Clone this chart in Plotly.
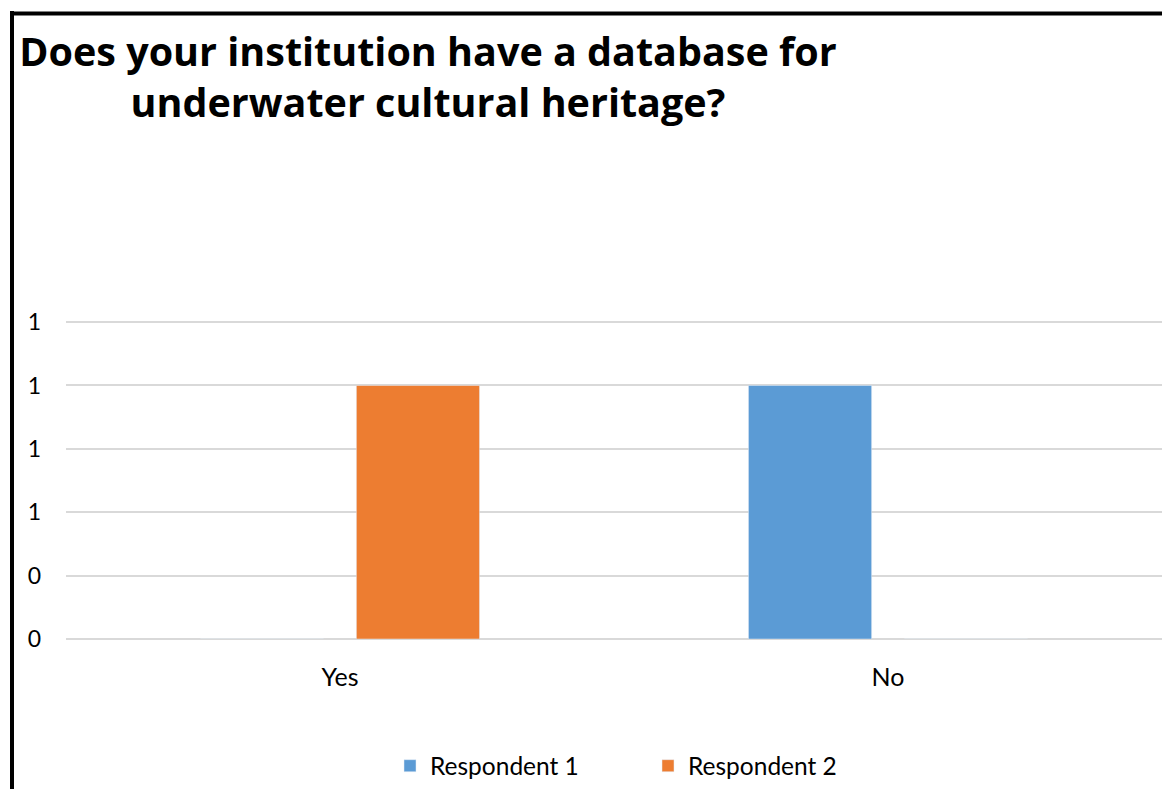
import plotly.graph_objects as go

categories = ["Yes", "No"]
respondent_1 = [0, 1]
respondent_2 = [1, 0]
tick_vals = [0, 0.25, 0.5, 0.75, 1.0, 1.25]
tick_text = ["0", "0", "1", "1", "1", "1"]

W, H = 1162, 789
Y_TOP = 1.27
ML, MR, MB = 66, 0, 147
PH = 320 * Y_TOP / 1.25
MT = H - MB - PH
PW = W - ML - MR

def px_x(x):
    return (x - ML) / PW

def px_y(y):
    return (H - MB - y) / PH

fig = go.Figure()
fig.add_trace(go.Bar(name="Respondent 1", x=categories, y=respondent_1, marker_color="#5B9BD5"))
fig.add_trace(go.Bar(name="Respondent 2", x=categories, y=respondent_2, marker_color="#ED7D31"))

font_family = "Lato, 'Open Sans', sans-serif"
title_family = "'Open Sans', sans-serif"

fig.update_layout(
    width=W, height=H,
    margin=dict(l=ML, r=MR, t=MT, b=MB),
    paper_bgcolor="white", plot_bgcolor="white",
    barmode="group", bargap=0.431, bargroupgap=0.21,
    font=dict(family=font_family, size=25, color="#000000"),
    title=dict(
        text="<b>Does your institution have a database for<br>underwater cultural heritage?</b>",
        x=px_x(428), xref="paper", xanchor="center",
        y=1 - 66 / H, yref="container", yanchor="top",
        font=dict(family=title_family, size=39.5, color="#000000"),
    ),
    legend=dict(
        orientation="h", x=px_x(390), xanchor="left", xref="paper",
        y=px_y(770), yanchor="middle", yref="paper",
        font=dict(size=24.5), entrywidth=213, entrywidthmode="pixels",
        traceorder="normal",
    ),
    showlegend=True,
)

fig.update_yaxes(
    range=[0, Y_TOP], tickvals=tick_vals, ticktext=tick_text,
    showgrid=True, gridcolor="#D9D9D9", gridwidth=2,
    zeroline=True, zerolinecolor="#D9D9D9", zerolinewidth=2,
    showline=False, ticks="", ticklabelstandoff=24,
    tickfont=dict(size=23),
)
fig.update_xaxes(
    showline=False, ticks="", ticklabelstandoff=21,
    tickfont=dict(size=25),
)

# chart-area border (cropped on right and bottom)
fig.add_shape(type="line", xref="paper", yref="paper",
              x0=px_x(12), x1=px_x(12), y0=px_y(8), y1=px_y(H + 20),
              line=dict(color="black", width=4))
fig.add_shape(type="line", xref="paper", yref="paper",
              x0=px_x(10), x1=px_x(W + 20), y0=px_y(10.5), y1=px_y(10.5),
              line=dict(color="black", width=4))

fig.write_html("out.html")
